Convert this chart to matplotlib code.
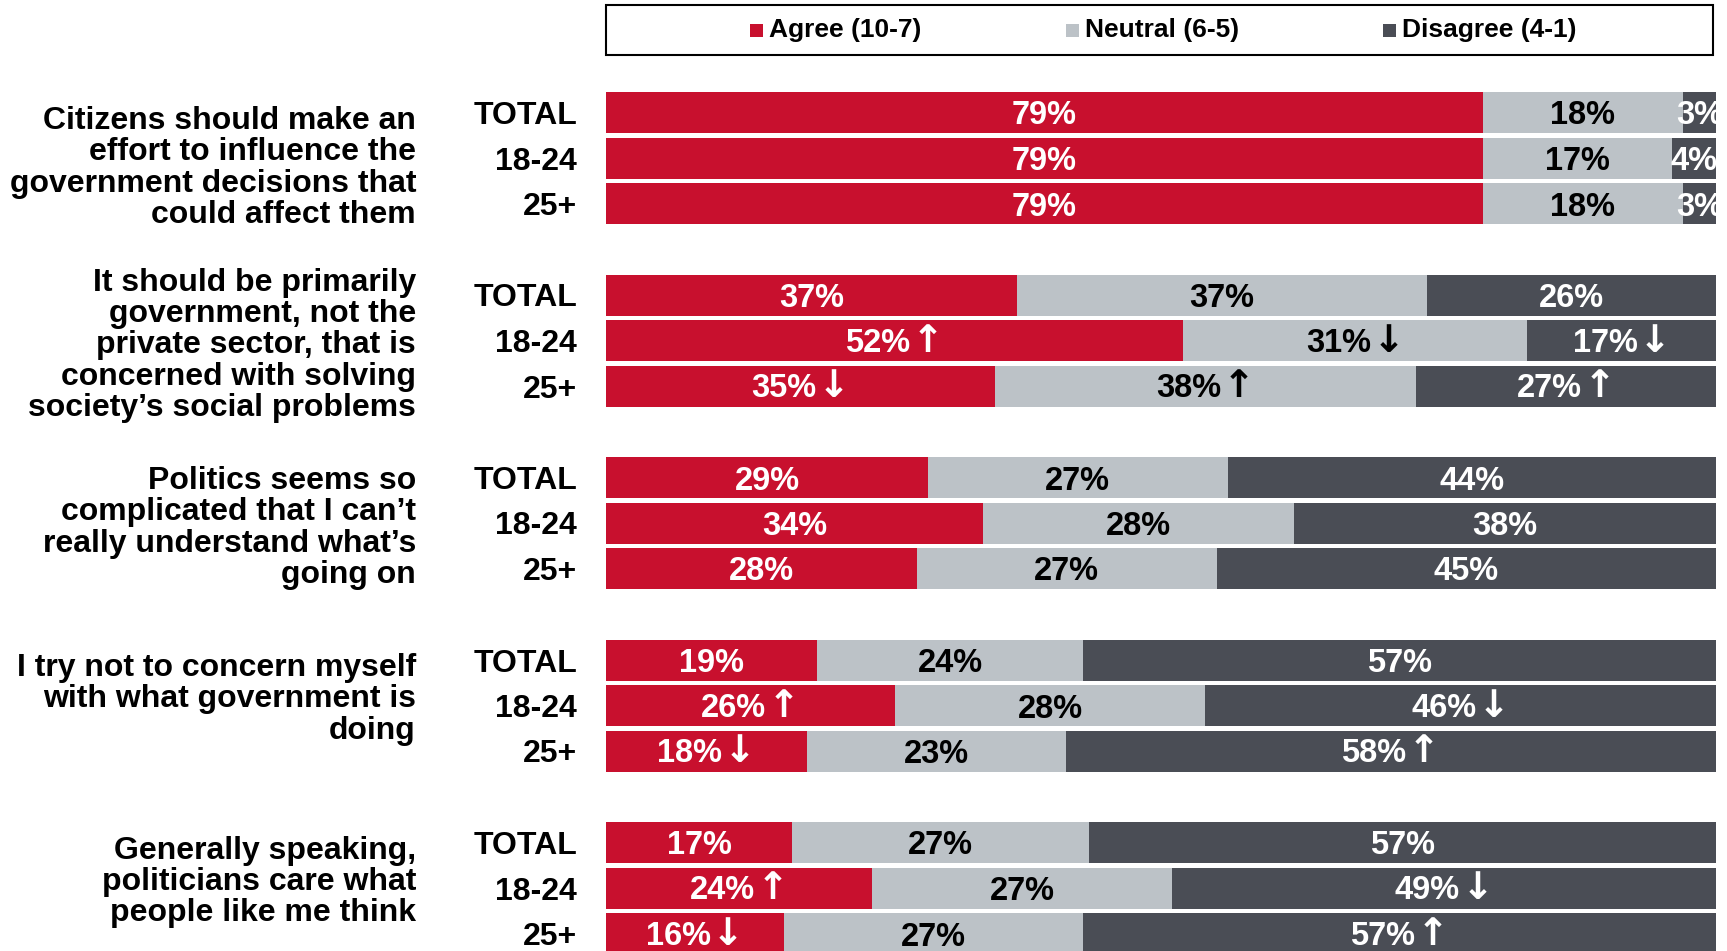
import matplotlib.pyplot as plt
import matplotlib.transforms as mtransforms
from matplotlib.patches import Rectangle
from matplotlib.offsetbox import TextArea, HPacker, AnnotationBbox

plt.rcParams['font.family'] = ['Liberation Sans', 'DejaVu Sans']
plt.rcParams['font.weight'] = 'bold'

# data
questions = ["Citizens should make an\neffort to influence the\ngovernment decisions that\ncould affect them",
             "It should be primarily\ngovernment, not the\nprivate sector, that is\nconcerned with solving\nsociety\u2019s social problems",
             "Politics seems so\ncomplicated that I can\u2019t\nreally understand what\u2019s\ngoing on",
             "I try not to concern myself\nwith what government is\ndoing",
             "Generally speaking,\npoliticians care what\npeople like me think"]
groups = ["TOTAL", "18-24", "25+"]
series = ["Agree (10-7)", "Neutral (6-5)", "Disagree (4-1)"]

# printed labels
agree = [[79, 79, 79], [37, 52, 35], [29, 34, 28], [19, 26, 18], [17, 24, 16]]
neutral = [[18, 17, 18], [37, 31, 38], [27, 28, 27], [24, 28, 23], [27, 27, 27]]
disagree = [[3, 4, 3], [26, 17, 27], [44, 38, 45], [57, 46, 58], [57, 49, 57]]

# bar lengths as measured (unrounded where the printed labels don't add up)
agree_w = [[79, 79, 79], [37, 52, 35], [29, 34, 28], [19, 26, 18.1], [16.8, 24, 16]]
neutral_w = [[18, 17, 18], [37, 31, 38], [27, 28, 27], [24, 28, 23.3], [26.7, 27, 27]]
disagree_w = [[3, 4, 3], [26, 17, 27], [44, 38, 45], [57, 46, 58.6], [56.5, 49, 57]]

# significance arrows: u = higher, d = lower
agree_sig = [["", "", ""], ["", "u", "d"], ["", "", ""], ["", "u", "d"], ["", "u", "d"]]
neutral_sig = [["", "", ""], ["", "d", "u"], ["", "", ""], ["", "", ""], ["", "", ""]]
disagree_sig = [["", "", ""], ["", "d", "u"], ["", "", ""], ["", "d", "u"], ["", "d", "u"]]

colors = ["#C8102E", "#BCC2C7", "#4A4D55"]
text_colors = ["white", "black", "white"]
arrows = {"u": "\u2191", "d": "\u2193"}

W, H = 1727, 951
fig = plt.figure(figsize=(W / 100, H / 100), dpi=100)
ax = fig.add_axes([606 / W, 0, 1110 / W, 1])
ax.set_xlim(0, 100)
ax.set_ylim(H, 0)
ax.axis("off")
trans = mtransforms.blended_transform_factory(fig.transFigure, ax.transData)

group_step = 182.5
row_step = 45.5
bar_h = 41
first_y = 112.5
q_offset = [10, 5, 5, -6, -6]
lab_size = 23.5

labels = [agree, neutral, disagree]
widths = [agree_w, neutral_w, disagree_w]
sigs = [agree_sig, neutral_sig, disagree_sig]

for g in range(len(questions)):
    for r in range(len(groups)):
        y = first_y + g * group_step + r * row_step
        left = 0
        for s in range(3):
            v = widths[s][g][r]
            ax.barh(y, v, left=left, height=bar_h, color=colors[s], edgecolor="none")
            sig = sigs[s][g][r]
            if sig == "":
                ax.text(left + v / 2, y, f"{labels[s][g][r]}%", ha="center", va="center_baseline",
                        color=text_colors[s], fontsize=lab_size, fontweight="bold", clip_on=True)
            else:
                num = TextArea(f"{labels[s][g][r]}%", textprops=dict(color=text_colors[s], fontsize=lab_size,
                                                                      fontweight="bold"))
                arr = TextArea(arrows[sig], textprops=dict(color=text_colors[s], fontsize=lab_size + 4,
                                                           fontweight="bold", family="DejaVu Sans"))
                pack = HPacker(children=[num, arr], align="baseline", pad=0, sep=1)
                ab = AnnotationBbox(pack, (left + v / 2, y), xycoords="data", frameon=False,
                                    box_alignment=(0.5, 0.53), pad=0)
                ax.add_artist(ab)
            left += v
        fig.text(577 / W, y, groups[r], transform=trans, ha="right", va="center_baseline",
                 fontsize=23, fontweight="bold")
    yc = first_y + g * group_step + row_step + q_offset[g]
    fig.text(416 / W, yc, questions[g], transform=trans, ha="right", va="center",
             fontsize=23, fontweight="bold", linespacing=1.05)

# legend box on top
fig.patches.append(Rectangle((606 / W, 1 - 55 / H), 1107 / W, 49.5 / H, transform=fig.transFigure,
                             facecolor="white", edgecolor="black", linewidth=1.5))
sq_x = [750, 1066, 1383]
for s in range(3):
    fig.patches.append(Rectangle((sq_x[s] / W, 1 - 37 / H), 13 / W, 13 / H, transform=fig.transFigure,
                                 facecolor=colors[s], edgecolor="none"))
    fig.text((sq_x[s] + 19) / W, 1 - 30 / H, series[s], ha="left", va="center",
             fontsize=19, fontweight="bold")

fig.savefig("out.png", dpi=100)
